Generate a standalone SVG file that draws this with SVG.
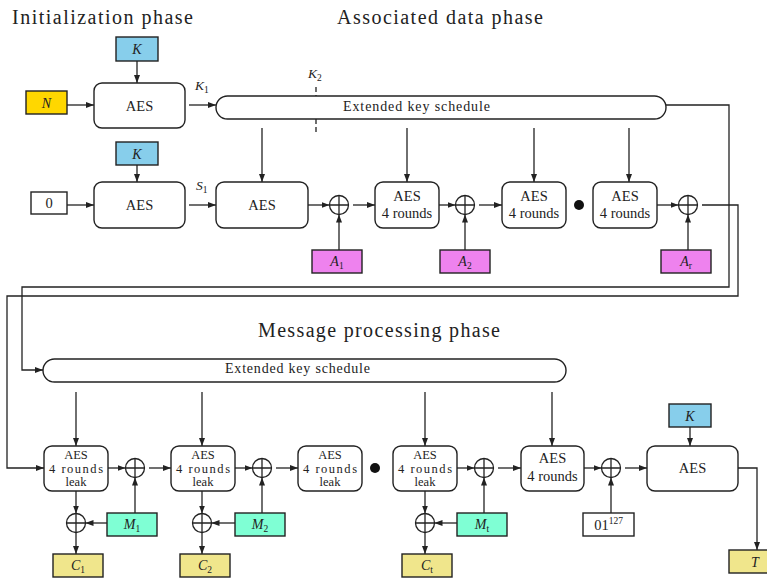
<svg xmlns="http://www.w3.org/2000/svg" width="767" height="579" viewBox="0 0 767 579" font-family="'Liberation Serif','DejaVu Serif','Noto Serif','Times New Roman',Times,serif">
<style>
text{font-family:'Liberation Serif','DejaVu Serif','Noto Serif','Times New Roman',Times,serif;fill:#222}
.t{font-size:20px}
.b{font-size:14.5px;text-anchor:middle}
.k{font-size:12.5px;text-anchor:middle}
.s{font-size:14px}
.v{font-size:14px;font-style:italic;text-anchor:middle}
.l{font-size:13.5px;font-style:italic}
.sub{font-size:9.5px;font-style:normal}
.si{font-size:9.5px}
.box{fill:#fff;stroke:#222;stroke-width:1.4}
.c{fill:none;stroke:#222;stroke-width:1.3;marker-end:url(#a)}
.x{fill:#fff;stroke:#222;stroke-width:1.3}
.kk{fill:#87CEEB;stroke:#222;stroke-width:1.4}
.nn{fill:#FFD700;stroke:#222;stroke-width:1.4}
.aa{fill:#EE82EE;stroke:#222;stroke-width:1.4}
.mm{fill:#7FFFD4;stroke:#222;stroke-width:1.4}
.cc{fill:#F0E68C;stroke:#222;stroke-width:1.4}
</style>
<defs>
<marker id="a" markerUnits="userSpaceOnUse" markerWidth="8" markerHeight="6" refX="8" refY="3" orient="auto"><path d="M0,0 L8,3 L0,6 z" fill="#222"/></marker>
<g id="xo"><circle r="9.5" class="x"/><path d="M-9.5,0H9.5M0,-9.5V9.5" stroke="#222" stroke-width="1.3"/></g>
</defs>

<g id="titles">
<text class="t" x="12" y="24" textLength="181">Initialization phase</text>
<text class="t" x="337" y="24" textLength="206">Associated data phase</text>
<text class="t" x="258" y="337" textLength="242">Message processing phase</text>
</g>

<g id="connectors">
<path class="c" d="M137,61V83"/>
<path class="c" d="M67,105H94"/>
<path class="c" d="M189,105H216"/>
<path class="c" d="M137,165V182"/>
<path class="c" d="M67,205H94"/>
<path class="c" d="M189,205H216"/>
<path class="c" d="M262,128V182"/>
<path class="c" d="M308,205H329.5"/>
<path class="c" d="M339,250V214.5"/>
<path class="c" d="M353,205H375"/>
<path class="c" d="M407,128V182"/>
<path class="c" d="M439,205H455.5"/>
<path class="c" d="M465,250V214.5"/>
<path class="c" d="M479,205H502"/>
<path class="c" d="M534,128V182"/>
<path class="c" d="M629,128V182"/>
<path class="c" d="M657,205H678.5"/>
<path class="c" d="M688,250V214.5"/>
<path class="c" d="M702,205H738V296H7V468H44"/>
<path class="c" d="M666,105H729V287H22V370H43"/>
<path d="M316,87V133" stroke="#222" stroke-width="1.3" stroke-dasharray="5,3"/>
<path class="c" d="M76,392V446"/>
<path class="c" d="M202,392V446"/>
<path class="c" d="M425,392V446"/>
<path class="c" d="M552,392V446"/>
<path class="c" d="M108,468H125.5"/>
<path class="c" d="M135,513V477.5"/>
<path class="c" d="M149,468H171"/>
<path class="c" d="M235,468H252.5"/>
<path class="c" d="M262,513V477.5"/>
<path class="c" d="M276,468H298"/>
<path class="c" d="M457,468H474.5"/>
<path class="c" d="M484,513V477.5"/>
<path class="c" d="M498,468H521"/>
<path class="c" d="M584,468H601.5"/>
<path class="c" d="M611,513V477.5"/>
<path class="c" d="M625,468H647"/>
<path class="c" d="M690,427V446"/>
<path class="c" d="M738,468H757V550"/>
<path class="c" d="M76,491V513.5"/>
<path class="c" d="M107,523H85.5"/>
<path class="c" d="M76,532.5V554"/>
<path class="c" d="M202,491V513.5"/>
<path class="c" d="M235,523H211.5"/>
<path class="c" d="M202,532.5V554"/>
<path class="c" d="M425,491V513.5"/>
<path class="c" d="M457,523H434.5"/>
<path class="c" d="M425,532.5V554"/>
</g>

<g id="labels">
<text class="l" x="195" y="90">K<tspan class="sub" dy="3">1</tspan></text>
<text class="l" x="308" y="78">K<tspan class="sub" dy="3">2</tspan></text>
<text class="l" x="196" y="190">S<tspan class="sub" dy="3">1</tspan></text>
</g>

<g id="init-K1"><rect class="kk" x="116" y="37" width="42" height="24"/><text class="v" x="137" y="54">K</text></g>
<g id="init-N"><rect class="nn" x="26" y="91" width="41" height="23"/><text class="v" x="46.5" y="108">N</text></g>
<g id="init-AES1"><rect class="box" x="94" y="83" width="91" height="45" rx="8"/><text class="b" x="139.5" y="110.5">AES</text></g>
<g id="init-K2"><rect class="kk" x="116" y="142" width="42" height="23"/><text class="v" x="137" y="158.5">K</text></g>
<g id="init-zero"><rect class="box" x="31" y="192" width="36" height="22"/><text class="b" x="49" y="208">0</text></g>
<g id="init-AES2"><rect class="box" x="94" y="182" width="91" height="46" rx="8"/><text class="b" x="139.5" y="210">AES</text></g>

<g id="schedule1"><rect class="box" x="216" y="96" width="450" height="23" rx="11.5"/><text class="s" x="343" y="110.5" textLength="147">Extended key schedule</text></g>
<g id="ad-AES"><rect class="box" x="216" y="182" width="92" height="46" rx="8"/><text class="b" x="262" y="210">AES</text></g>
<g id="ad-xor1"><use href="#xo" x="339" y="205"/></g>
<g id="A1"><rect class="aa" x="312" y="250" width="50" height="23"/><text class="v" x="337" y="266">A<tspan class="sub" dy="2.5">1</tspan></text></g>
<g id="ad-AES4-1"><rect class="box" x="375" y="182" width="64" height="46" rx="8"/><text class="b" x="407" y="200.5">AES</text><text class="b" x="407" y="218">4 rounds</text></g>
<g id="ad-xor2"><use href="#xo" x="465" y="205"/></g>
<g id="A2"><rect class="aa" x="440" y="250" width="50" height="23"/><text class="v" x="465" y="266">A<tspan class="sub" dy="2.5">2</tspan></text></g>
<g id="ad-AES4-2"><rect class="box" x="502" y="182" width="64" height="46" rx="8"/><text class="b" x="534" y="200.5">AES</text><text class="b" x="534" y="218">4 rounds</text></g>
<g id="ad-dot"><circle cx="579" cy="205" r="5" fill="#111"/></g>
<g id="ad-AES4-3"><rect class="box" x="593" y="182" width="64" height="46" rx="8"/><text class="b" x="625" y="200.5">AES</text><text class="b" x="625" y="218">4 rounds</text></g>
<g id="ad-xor3"><use href="#xo" x="688" y="205"/></g>
<g id="Ar"><rect class="aa" x="661" y="250" width="50" height="23"/><text class="v" x="686" y="266">A<tspan class="sub" dy="2.5" font-style="italic">r</tspan></text></g>

<g id="schedule2"><rect class="box" x="43" y="359" width="523" height="23" rx="11.5"/><text class="s" x="225" y="373" textLength="145">Extended key schedule</text></g>
<g id="leak1"><rect class="box" x="44" y="446" width="64" height="45" rx="8"/><text class="k" x="76" y="459">AES</text><text class="k" x="76" y="472.5" textLength="54">4 rounds</text><text class="k" x="76" y="486">leak</text></g>
<g id="mp-xor1"><use href="#xo" x="135" y="468"/></g>
<g id="leak2"><rect class="box" x="171" y="446" width="64" height="45" rx="8"/><text class="k" x="203" y="459">AES</text><text class="k" x="203" y="472.5" textLength="54">4 rounds</text><text class="k" x="203" y="486">leak</text></g>
<g id="mp-xor2"><use href="#xo" x="262" y="468"/></g>
<g id="leak3"><rect class="box" x="298" y="446" width="64" height="45" rx="8"/><text class="k" x="330" y="459">AES</text><text class="k" x="330" y="472.5" textLength="54">4 rounds</text><text class="k" x="330" y="486">leak</text></g>
<g id="mp-dot"><circle cx="375" cy="468" r="5" fill="#111"/></g>
<g id="leakt"><rect class="box" x="393" y="446" width="64" height="45" rx="8"/><text class="k" x="425" y="459">AES</text><text class="k" x="425" y="472.5" textLength="54">4 rounds</text><text class="k" x="425" y="486">leak</text></g>
<g id="mp-xort"><use href="#xo" x="484" y="468"/></g>
<g id="mp-AES4"><rect class="box" x="521" y="446" width="63" height="45" rx="8"/><text class="b" x="552.5" y="463">AES</text><text class="b" x="552.5" y="481">4 rounds</text></g>
<g id="mp-xorf"><use href="#xo" x="611" y="468"/></g>
<g id="const"><rect class="box" x="583" y="513" width="51" height="23"/><text class="b" x="608.5" y="530">01<tspan class="si" dy="-6">127</tspan></text></g>
<g id="mp-AES"><rect class="box" x="647" y="446" width="91" height="45" rx="8"/><text class="b" x="692.5" y="473">AES</text></g>
<g id="K3"><rect class="kk" x="669" y="404" width="42" height="23"/><text class="v" x="690" y="420.5">K</text></g>
<g id="T"><rect class="cc" x="729" y="550" width="50" height="23"/><text class="v" x="755" y="566.5">T</text></g>

<g id="c-xor1"><use href="#xo" x="76" y="523"/></g>
<g id="M1"><rect class="mm" x="107" y="513" width="50" height="23"/><text class="v" x="132" y="529">M<tspan class="sub" dy="2.5">1</tspan></text></g>
<g id="C1"><rect class="cc" x="53" y="554" width="50" height="23"/><text class="v" x="78" y="570">C<tspan class="sub" dy="2.5">1</tspan></text></g>
<g id="c-xor2"><use href="#xo" x="202" y="523"/></g>
<g id="M2"><rect class="mm" x="235" y="513" width="50" height="23"/><text class="v" x="260" y="529">M<tspan class="sub" dy="2.5">2</tspan></text></g>
<g id="C2"><rect class="cc" x="180" y="554" width="50" height="23"/><text class="v" x="205" y="570">C<tspan class="sub" dy="2.5">2</tspan></text></g>
<g id="c-xort"><use href="#xo" x="425" y="523"/></g>
<g id="Mt"><rect class="mm" x="457" y="513" width="50" height="23"/><text class="v" x="482" y="529">M<tspan class="sub" dy="2.5" font-style="italic">t</tspan></text></g>
<g id="Ct"><rect class="cc" x="402" y="554" width="50" height="23"/><text class="v" x="427" y="570">C<tspan class="sub" dy="2.5" font-style="italic">t</tspan></text></g>
</svg>
